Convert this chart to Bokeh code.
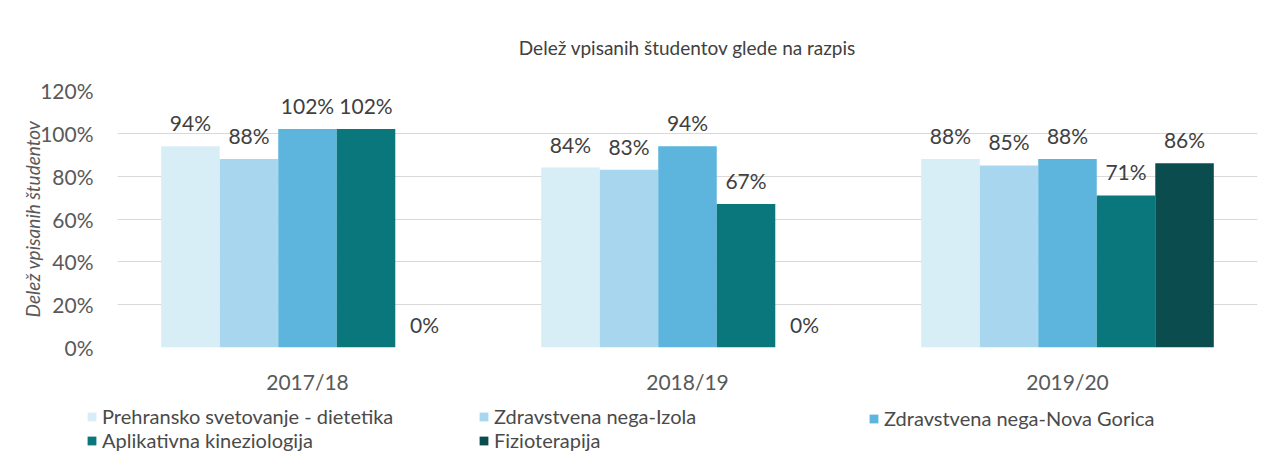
from bokeh.plotting import figure
from bokeh.layouts import column
from bokeh.models import (FactorRange, Range1d, Legend, LegendItem, NumeralTickFormatter,
                          ColumnDataSource, LabelSet, Title)
from bokeh.transform import dodge
from bokeh.embed import file_html
from bokeh.resources import INLINE
from bokeh.core.properties import value

years = ["2017/18", "2018/19", "2019/20"]
series_names = ["Prehransko svetovanje - dietetika", "Zdravstvena nega-Izola",
                "Zdravstvena nega-Nova Gorica", "Aplikativna kineziologija", "Fizioterapija"]
prehransko = [0.94, 0.84, 0.88]
izola = [0.88, 0.83, 0.85]
nova_gorica = [1.02, 0.94, 0.88]
kineziologija = [1.02, 0.67, 0.71]
fizioterapija = [0.00, 0.00, 0.86]
series_values = [prehransko, izola, nova_gorica, kineziologija, fizioterapija]
colors = ["#d8eef6", "#a9d6ef", "#5db4dc", "#0a777c", "#0b4d4e"]
y_ticks = [0, 0.2, 0.4, 0.6, 0.8, 1.0, 1.2]

FONT = "Lato"
TXT = "#595959"
W = 1268

p = figure(x_range=FactorRange(factors=years), y_range=Range1d(0, 1.2),
           width=W, height=400, output_backend="svg", toolbar_location=None,
           min_border_left=117, min_border_right=W - 1257, min_border_top=90,
           min_border_bottom=53)
p.outline_line_color = None
p.frame_align = False

title = Title(text="Delež vpisanih študentov glede na razpis", align="center",
              text_font=FONT, text_font_size="19px", text_font_style="normal",
              text_color="#404040", standoff=63)
p.add_layout(title, "above")

bw = 0.154
for i, (name, vals, col) in enumerate(zip(series_names, series_values, colors)):
    off = (i - 2) * bw
    src = ColumnDataSource(dict(x=years, top=vals,
                                lab=[f"{round(v * 100)}%" for v in vals]))
    p.vbar(x=dodge("x", off, range=p.x_range), top="top", width=bw, source=src,
           fill_color=col, line_color=None)
    labels = LabelSet(x=dodge("x", off, range=p.x_range), y="top", text="lab", source=src,
                      text_align="center", text_baseline="alphabetic", y_offset=15,
                      text_font=value(FONT), text_font_size="21px", text_color="#404040")
    p.add_layout(labels)

p.xgrid.grid_line_color = None
p.ygrid.grid_line_color = "#d9d9d9"
p.ygrid.grid_line_width = 1
p.yaxis.ticker = y_ticks
p.yaxis.formatter = NumeralTickFormatter(format="0%")

for ax in (p.xaxis[0], p.yaxis[0]):
    ax.axis_line_color = None
    ax.major_tick_line_color = None
    ax.minor_tick_line_color = None
    ax.major_label_text_font = FONT
    ax.major_label_text_color = TXT

p.yaxis.major_label_text_font_size = "21px"
p.xaxis.major_label_text_font_size = "21px"
p.yaxis.major_label_standoff = 18
p.xaxis.major_label_standoff = 15
p.yaxis.axis_label = "Delež vpisanih študentov"
p.yaxis.axis_label_text_font = FONT
p.yaxis.axis_label_text_font_size = "19px"
p.yaxis.axis_label_text_font_style = "italic"
p.yaxis.axis_label_text_color = TXT
p.yaxis.axis_label_standoff = -7

# legend strip below the chart
lp = figure(width=W, height=60, output_backend="svg", toolbar_location=None,
            x_range=Range1d(0, 1), y_range=Range1d(0, 1),
            x_axis_location=None, y_axis_location=None,
            min_border=0, min_border_left=0, min_border_right=0,
            min_border_top=0, min_border_bottom=0)
lp.outline_line_color = None
lp.frame_align = False
lp.xgrid.visible = False
lp.ygrid.visible = False
leg_renderers = []
for col in colors:
    leg_renderers.append(lp.vbar(x=[-5], top=[0], bottom=[0], width=0.1,
                                 fill_color=col, line_color=None))


def make_legend(idx, loc):
    items = [LegendItem(label=series_names[i], renderers=[leg_renderers[i]]) for i in idx]
    lg = Legend(items=items, location=loc, orientation="vertical",
                padding=0, margin=0, border_line_color=None, background_fill_alpha=0,
                label_text_font=FONT, label_text_font_size="20px", label_text_color="#4a4a4a",
                glyph_width=11, glyph_height=11, label_standoff=5, spacing=-2,
                label_height=20)
    lp.add_layout(lg, "center")


make_legend([0, 3], (86, 8))
make_legend([1, 4], (478, 8))
make_legend([2], (868, 30))

layout = column(p, lp, spacing=0)
open("out.html", "w").write(file_html(layout, INLINE))
